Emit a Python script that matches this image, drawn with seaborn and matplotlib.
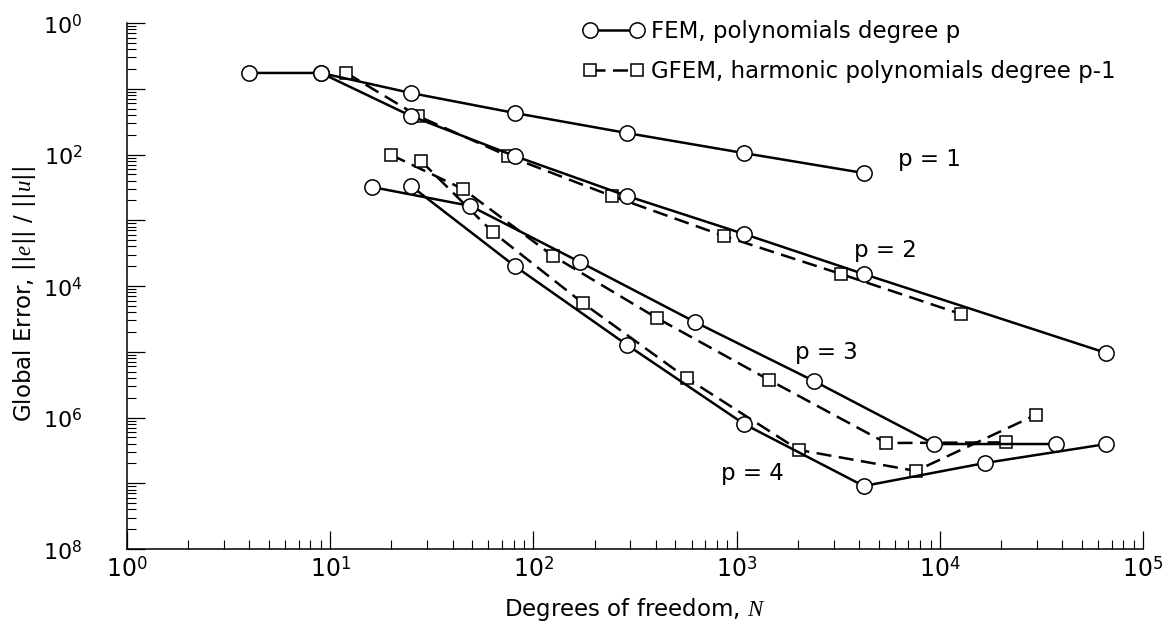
import numpy as np
import pandas as pd
import matplotlib
matplotlib.use("Agg")
import matplotlib.pyplot as plt
import seaborn as sns
from matplotlib.ticker import LogLocator, FixedLocator, FixedFormatter, NullFormatter
from matplotlib.lines import Line2D

# ---------------- data ----------------
fem_p1_N = [4, 9, 25, 81, 289, 1089, 4225]
fem_p1_err = [0.174, 0.174, 0.0861, 0.0428, 0.0212, 0.0105, 0.00523]
fem_p2_N = [9, 25, 81, 289, 1089, 4225, 66049]
fem_p2_err = [0.174, 0.0385, 0.00948, 0.00234, 6.18e-4, 1.52e-4, 9.57e-6]
fem_p3_N = [16, 49, 169, 625, 2401, 9409, 37249]
fem_p3_err = [3.21e-3, 1.65e-3, 2.32e-4, 2.83e-5, 3.59e-6, 3.95e-7, 3.95e-7]
fem_p4_N = [25, 81, 289, 1089, 4225, 16641, 66049]
fem_p4_err = [3.32e-3, 2.01e-4, 1.27e-5, 7.96e-7, 9.08e-8, 2.03e-7, 3.95e-7]

gfem_p2_N = [12, 27, 75, 243, 867, 3267, 12675]
gfem_p2_err = [0.174, 0.0385, 0.00948, 0.00234, 5.76e-4, 1.52e-4, 3.75e-5]
gfem_p3_N = [20, 45, 125, 405, 1445, 5445, 21125]
gfem_p3_err = [9.82e-3, 2.99e-3, 2.86e-4, 3.26e-5, 3.72e-6, 4.09e-7, 4.19e-7]
gfem_p4_N = [28, 63, 175, 567, 2023, 7623, 29575]
gfem_p4_err = [7.96e-3, 6.63e-4, 5.51e-5, 3.99e-6, 3.21e-7, 1.54e-7, 1.09e-6]

x_tick_values = [1e0, 1e1, 1e2, 1e3, 1e4, 1e5]
x_tick_labels = ["$10^{0}$", "$10^{1}$", "$10^{2}$", "$10^{3}$", "$10^{4}$", "$10^{5}$"]
y_tick_values = [1e0, 1e-1, 1e-2, 1e-3, 1e-4, 1e-5, 1e-6, 1e-7, 1e-8]
y_tick_labels = ["$10^{0}$", "", "$10^{2}$", "", "$10^{4}$", "", "$10^{6}$", "", "$10^{8}$"]

legend_labels = ["FEM, polynomials degree p", "GFEM, harmonic polynomials degree p-1"]
curve_labels = ["p = 1", "p = 2", "p = 3", "p = 4"]

# ---------------- style ----------------
sns.set_style("ticks")
plt.rcParams["font.family"] = ["DejaVu Sans"]
plt.rcParams["mathtext.fontset"] = "custom"
plt.rcParams["mathtext.rm"] = "DejaVu Sans"
plt.rcParams["mathtext.it"] = "Liberation Serif:italic"
plt.rcParams["mathtext.bf"] = "DejaVu Sans:bold"
for key in ["text.color", "axes.labelcolor", "xtick.color", "ytick.color",
            "axes.edgecolor"]:
    plt.rcParams[key] = "black"

fig = plt.figure(figsize=(11.66, 6.27), dpi=100)
ax = fig.add_axes([0.1089, 0.1244, 0.8714, 0.8389])

LW = 1.8
circle_kw = dict(marker="o", markersize=11, markerfacecolor="white",
                 markeredgecolor="black", markeredgewidth=1.1)
square_kw = dict(marker="s", markersize=9, markerfacecolor="white",
                 markeredgecolor="black", markeredgewidth=1.1)
dash_style = (0, (6, 3))

fem_series = [(fem_p1_N, fem_p1_err), (fem_p2_N, fem_p2_err),
              (fem_p3_N, fem_p3_err), (fem_p4_N, fem_p4_err)]
gfem_series = [(gfem_p2_N, gfem_p2_err), (gfem_p3_N, gfem_p3_err),
               (gfem_p4_N, gfem_p4_err)]

for N, err in gfem_series:
    df = pd.DataFrame({"N": N, "err": err})
    sns.lineplot(data=df, x="N", y="err", ax=ax, color="black", lw=LW,
                 linestyle=dash_style, estimator=None, sort=False,
                 legend=False, **square_kw)
for N, err in fem_series:
    df = pd.DataFrame({"N": N, "err": err})
    sns.lineplot(data=df, x="N", y="err", ax=ax, color="black", lw=LW,
                 linestyle="-", estimator=None, sort=False,
                 legend=False, **circle_kw)

ax.set_xscale("log")
ax.set_yscale("log")
ax.set_xlim(1, 1e5)
ax.set_ylim(1e-8, 1)

ax.xaxis.set_major_locator(FixedLocator(x_tick_values))
ax.xaxis.set_major_formatter(FixedFormatter(x_tick_labels))
ax.xaxis.set_minor_locator(LogLocator(base=10, subs=np.arange(2, 10), numticks=20))
ax.xaxis.set_minor_formatter(NullFormatter())
ax.yaxis.set_major_locator(FixedLocator(y_tick_values))
ax.yaxis.set_major_formatter(FixedFormatter(y_tick_labels))
ax.yaxis.set_minor_locator(LogLocator(base=10, subs=np.arange(2, 10), numticks=20))
ax.yaxis.set_minor_formatter(NullFormatter())

ax.tick_params(which="major", direction="in", length=13, width=0.9, color="black")
ax.tick_params(which="minor", direction="in", length=6.5, width=0.8, color="black")
ax.tick_params(axis="x", which="major", labelsize=17, pad=6)
ax.tick_params(axis="y", which="major", labelsize=16, pad=32)

for side in ["top", "right"]:
    ax.spines[side].set_visible(False)
for side in ["left", "bottom"]:
    ax.spines[side].set_linewidth(1.1)
    ax.spines[side].set_color("black")

ax.set_xlabel(r"Degrees of freedom, $\it{N}$", fontsize=16.5)
ax.set_ylabel(r"Global Error, ||$\it{e}$|| / ||$\it{u}$||", fontsize=16.5)
ax.xaxis.set_label_coords(0.5, -0.09)
ax.yaxis.set_label_coords(-0.088, 0.485)

# curve labels
label_pos = [(0.790, 0.740), (0.746, 0.567), (0.688, 0.373), (0.616, 0.143)]
for txt, (xp, yp) in zip(curve_labels, label_pos):
    ax.text(xp, yp, txt, transform=ax.transAxes, fontsize=16.5,
            ha="center", va="center")

# legend
h_fem = Line2D([], [], color="black", lw=LW, linestyle="-", **circle_kw)
h_gfem = Line2D([], [], color="black", lw=LW, linestyle=dash_style, **square_kw)
leg = ax.legend([h_fem, h_gfem], legend_labels, loc="center left",
                bbox_to_anchor=(0.449, 0.946), frameon=False, numpoints=2,
                fontsize=16.5, handlelength=2.65, handletextpad=0.3,
                labelspacing=0.72, borderpad=0, borderaxespad=0)

fig.savefig("out.png", dpi=100, facecolor="white")
